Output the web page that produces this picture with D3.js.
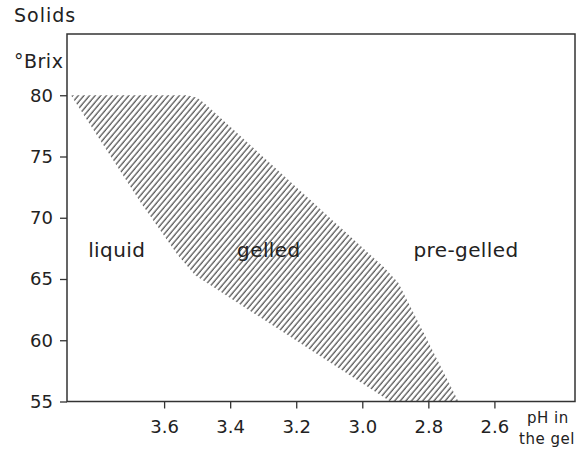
<!DOCTYPE html>
<html>
<head>
<meta charset="utf-8">
<script src="https://cdn.jsdelivr.net/npm/d3@7"></script>
<style>
  body { margin: 0; background: #fff; }
  text { font-family: "DejaVu Sans", sans-serif; fill: #222; }
</style>
</head>
<body>
<svg id="canvas"></svg>
<script>
/***********************************************************************/
// Data

// gelled region (pH, degrees Brix)
var leftEdge = [
  [3.882, 80.0],
  [3.670, 71.2],
  [3.560, 67.0],
  [3.506, 65.3],
  [2.915, 55.0]
];
var rightEdge = [
  [2.709, 55.0],
  [2.891, 64.7],
  [2.936, 66.0],
  [3.476, 79.3],
  [3.500, 79.8],
  [3.530, 80.0]
];
var regionNames = ['liquid', 'gelled', 'pre-gelled'];
var regionPH    = [3.83, 3.379, 2.845];
var regionBrix  = [66.8, 66.8, 66.8];

var xTicks = [3.6, 3.4, 3.2, 3.0, 2.8, 2.6];
var yTicks = [55, 60, 65, 70, 75, 80];

/***********************************************************************/
// Layout

var width = 585, height = 449;
var margin = { top: 34, right: 10, bottom: 47.5, left: 67 };

var svg = d3.select('#canvas').attr('width', width).attr('height', height);

var x = d3.scaleLinear().domain([3.894, 2.356]).range([margin.left, width - margin.right]);
var y = d3.scaleLinear().domain([55, 85]).range([height - margin.bottom, margin.top]);

// hatch pattern
var defs = svg.append('defs');
defs.append('pattern')
  .attr('id', 'hatch')
  .attr('patternUnits', 'userSpaceOnUse')
  .attr('width', 4.3).attr('height', 10)
  .attr('patternTransform', 'rotate(40)')
  .append('line')
    .attr('x1', 1).attr('y1', 0).attr('x2', 1).attr('y2', 10)
    .attr('stroke', '#222').attr('stroke-width', 1);

/***********************************************************************/
// Gelled region

var line = d3.line().x(d => x(d[0])).y(d => y(d[1]));
svg.append('path')
  .datum(leftEdge.concat(rightEdge))
  .attr('d', d => line(d) + 'Z')
  .attr('fill', 'url(#hatch)')
  .attr('stroke', 'none');

/***********************************************************************/
// Axes and frame

var yAxis = svg.append('g')
  .attr('transform', 'translate(' + margin.left + ',0)')
  .call(d3.axisLeft(y).tickValues(yTicks).tickSize(7).tickPadding(7).tickSizeOuter(0));
var xAxis = svg.append('g')
  .attr('transform', 'translate(0,' + (height - margin.bottom) + ')')
  .call(d3.axisBottom(x).tickValues(xTicks).tickFormat(d3.format('.1f')).tickSize(7).tickPadding(12).tickSizeOuter(0));

[yAxis, xAxis].forEach(g => {
  g.select('.domain').remove();
  g.selectAll('.tick line').attr('stroke', '#333').attr('stroke-width', 1.3);
  g.selectAll('.tick text').style('font-size', '18px').attr('fill', '#222');
});

svg.append('rect')
  .attr('x', margin.left).attr('y', margin.top)
  .attr('width', width - margin.left - margin.right)
  .attr('height', height - margin.top - margin.bottom)
  .attr('fill', 'none').attr('stroke', '#333').attr('stroke-width', 1.5);

/***********************************************************************/
// Titles and region labels

svg.append('text').attr('x', 14).attr('y', 22)
  .style('font-size', '19px').style('letter-spacing', '1px').text('Solids');
svg.append('text').attr('x', 14).attr('y', 68)
  .style('font-size', '19px').style('letter-spacing', '0.5px').text('°Brix');
svg.append('text').attr('x', 527).attr('y', 423)
  .style('font-size', '15px').style('letter-spacing', '0.5px').text('pH in');
svg.append('text').attr('x', 519).attr('y', 444)
  .style('font-size', '15px').style('letter-spacing', '0.5px').text('the gel');

svg.selectAll('.region')
  .data(regionNames)
  .enter().append('text')
    .attr('class', 'region')
    .attr('x', (d, i) => x(regionPH[i]))
    .attr('y', (d, i) => y(regionBrix[i]))
    .style('font-size', '20px')
    .style('letter-spacing', '0.4px')
    .text(d => d);
</script>
</body>
</html>
